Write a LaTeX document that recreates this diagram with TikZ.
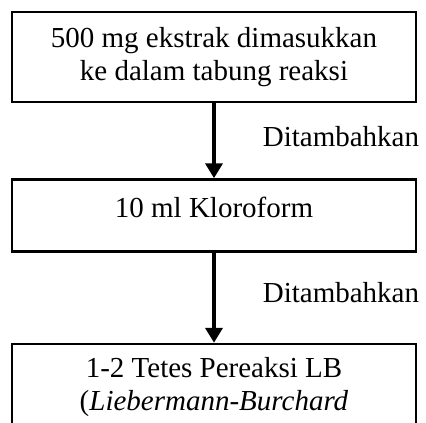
\documentclass[tikz,border=0pt]{standalone}
\usepackage{fontspec}
\setmainfont{Liberation Serif}
\usetikzlibrary{positioning,arrows.meta}
\tikzset{
  procbox/.style = {draw, line width=2.5pt, align=center, minimum width=404pt,
                    inner sep=0pt, font=\fontsize{29}{33}\selectfont},
  note/.style    = {inner sep=0pt, font=\fontsize{29}{33}\selectfont},
  arrow/.style   = {-{Triangle[width=17pt,length=15pt]}, line width=4pt},
}
\begin{document}
\begin{tikzpicture}[x=1pt,y=1pt]
  \useasboundingbox (0,0) rectangle (426,-423);
  \node[procbox, minimum height=90pt] (ekstrak) at (214,-57)
    {500 mg ekstrak dimasukkan\\ke dalam tabung reaksi};
  \node[procbox, minimum height=72pt, text depth=16pt, below=75pt of ekstrak] (kloro)
    {10 ml Kloroform};
  \node[procbox, inner ysep=13pt, text depth=60pt, below=90pt of kloro] (lb)
    {1-2 Tetes Pereaksi LB\\(\textit{Liebermann-Burchard}};
  \draw[arrow] (ekstrak) -- (kloro);
  \draw[arrow] (kloro) -- (lb);
  \node[note, anchor=base east] (tambah1) at ([shift={(2pt,-43pt)}]ekstrak.south east) {Ditambahkan};
  \node[note, anchor=base east] (tambah2) at ([shift={(2pt,-50pt)}]kloro.south east) {Ditambahkan};
\end{tikzpicture}
\end{document}
